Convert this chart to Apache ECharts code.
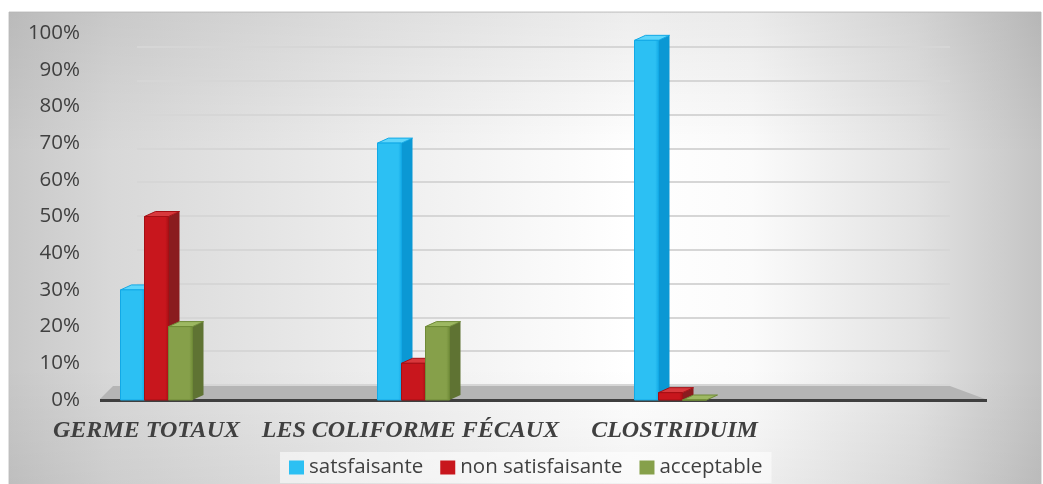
<!DOCTYPE html>
<html><head><meta charset="utf-8">
<script src="https://cdn.jsdelivr.net/npm/echarts@6/dist/echarts.min.js"></script>
<style>html,body{margin:0;padding:0;background:#fff}#c{width:1043px;height:484px}</style>
</head><body><div id="c"></div>
<script>
const categories = ['GERME TOTAUX', 'LES COLIFORME FÉCAUX', 'CLOSTRIDUIM'];
const seriesNames = ['satsfaisante', 'non satisfaisante', 'acceptable'];
const satisfaisante = [30, 70, 98];
const nonSatisfaisante = [50, 10, 2];
const acceptable = [20, 20, 0];
const yTicks = [0, 10, 20, 30, 40, 50, 60, 70, 80, 90, 100];

const faces = [
  {front: '#2cc0f3', side: '#0b98d4', top: '#5fd6fb', edge: '#12a9e6'},
  {front: '#c8161d', side: '#8a1c1f', top: '#d8383c', edge: '#a50f14'},
  {front: '#86a04a', side: '#5f7333', top: '#9db862', edge: '#6f8a37'}
];
const BW = 24, DX = 11, DY = -5;

function make(idx, data) {
  return {
    name: seriesNames[idx], type: 'custom', xAxisIndex: 0, yAxisIndex: 0, clip: false,
    itemStyle: {color: faces[idx].front},
    data: data.map((v, i) => [i, v]),
    renderItem: function (params, api) {
      const top = api.coord([api.value(0), api.value(1)]);
      const base = api.coord([api.value(0), 0]);
      const f = faces[idx];
      const x0 = top[0] + (idx - 1) * BW - BW / 2, x1 = x0 + BW;
      const yt = top[1], yb = base[1];
      return {type: 'group', children: [
        {type: 'polygon', shape: {points: [[x1, yb], [x1 + DX, yb + DY], [x1 + DX, yt + DY], [x1, yt]]},
         style: {fill: f.side}},
        {type: 'polygon', shape: {points: [[x0, yt], [x0 + DX, yt + DY], [x1 + DX, yt + DY], [x1, yt]]},
         style: {fill: f.top, stroke: f.edge, lineWidth: 1}},
        {type: 'rect', shape: {x: x0, y: yt, width: BW, height: yb - yt},
         style: {fill: new echarts.graphic.LinearGradient(0, 0, 1, 0, [
           {offset: 0, color: f.front}, {offset: 0.85, color: f.front}, {offset: 1, color: f.edge}]),
           stroke: f.edge, lineWidth: 1}}
      ]};
    }
  };
}

const labelFont = {fontFamily: 'Liberation Serif', fontStyle: 'italic', fontWeight: 'bold', fontSize: 24, color: '#404040'};

const chart = echarts.init(document.getElementById('c'), null, {renderer: 'canvas'});
chart.setOption({
  animation: false,
  backgroundColor: '#ffffff',
  graphic: [
    {type: 'rect', z: -12, silent: true, shape: {x: 9, y: 12, width: 1032, height: 474},
     style: {fill: new echarts.graphic.LinearGradient(0, 0, 1, 0, [
       {offset: 0, color: '#c8c8c8'}, {offset: 0.1, color: '#d8d8d8'}, {offset: 0.35, color: '#ededed'},
       {offset: 0.6, color: '#ffffff'}, {offset: 0.72, color: '#fbfbfb'}, {offset: 0.88, color: '#e2e2e2'},
       {offset: 1, color: '#c4c4c4'}]),
       stroke: '#c4c4c4', lineWidth: 1}},
    {type: 'rect', z: -11, silent: true, shape: {x: 9, y: 12, width: 1032, height: 474},
     style: {fill: new echarts.graphic.LinearGradient(0, 0, 0, 1, [
       {offset: 0, color: 'rgba(0,0,0,0.07)'}, {offset: 0.3, color: 'rgba(0,0,0,0)'},
       {offset: 0.75, color: 'rgba(0,0,0,0)'}, {offset: 1, color: 'rgba(0,0,0,0.05)'}])}},
    {type: 'polygon', z: -5, silent: true,
     shape: {points: [[100, 399], [113, 386], [950, 386], [985, 399]]},
     style: {fill: '#b5b5b5'}},
    {type: 'line', z: -4, silent: true, shape: {x1: 100, y1: 400.5, x2: 987, y2: 400.5},
     style: {stroke: '#3f3f3f', lineWidth: 3}}
  ],
  legend: {
    data: seriesNames, left: 280, top: 452, itemWidth: 15, itemHeight: 14, itemGap: 17,
    icon: 'rect', padding: [5, 9],
    backgroundColor: 'rgba(255,255,255,0.55)',
    textStyle: {fontFamily: 'Open Sans', fontSize: 20.5, color: '#404040'}
  },
  grid: [
    {left: 28, width: 771, top: 33, height: 367},
    {left: 88, width: 897, top: 33, height: 367},
    {left: 137, right: 93, top: 47, height: 338}
  ],
  xAxis: [
    {type: 'category', gridIndex: 0, data: categories,
     axisLine: {show: false}, axisTick: {show: false},
     axisLabel: {margin: 19, interval: 0,
       formatter: (v, i) => ['{l|', '{m|', '{r|'][i] + v + '}',
       rich: {
         l: Object.assign({padding: [0, 20, 0, 0]}, labelFont),
         m: Object.assign({padding: [0, 6, 0, 0]}, labelFont),
         r: Object.assign({padding: [0, 0, 0, 8]}, labelFont)
       }}},
    {type: 'category', gridIndex: 1, data: categories, show: false},
    {type: 'category', gridIndex: 2, data: categories, show: false}
  ],
  yAxis: [
    {type: 'value', gridIndex: 0, min: 0, max: 100, interval: 10, show: false},
    {type: 'value', gridIndex: 1, min: 0, max: 100, interval: 10,
     axisLine: {show: false}, axisTick: {show: false}, splitLine: {show: false},
     axisLabel: {formatter: v => v + '%', margin: 8, fontFamily: 'Open Sans', fontSize: 20.5, color: '#404040'}},
    {type: 'value', gridIndex: 2, min: 0, max: 100, interval: 10,
     axisLine: {show: false}, axisTick: {show: false}, axisLabel: {show: false},
     splitLine: {show: true, lineStyle: {color: '#d6d6d6', width: 2}}}
  ],
  series: [make(0, satisfaisante), make(1, nonSatisfaisante), make(2, acceptable)]
});
</script></body></html>
